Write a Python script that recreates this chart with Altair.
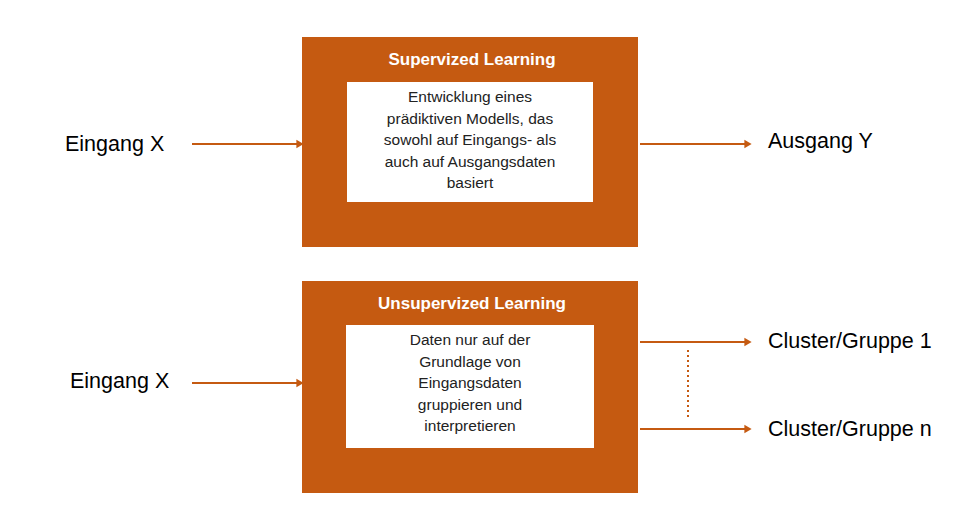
import altair as alt
import pandas as pd

ORANGE = "#C55A11"

# boxes: x, x2, y, y2, fill
box_x = [302, 347, 302, 346]
box_x2 = [638, 593, 638, 594]
box_y = [37, 82, 281, 325]
box_y2 = [247, 202, 493, 448]
box_fill = [ORANGE, "white", ORANGE, "white"]

# arrows
arr_x = [192, 640, 192, 640, 640]
arr_x2 = [300, 748, 300, 748, 748]
arr_y = [144, 144, 383, 342, 429]

titles = ["Supervized Learning", "Unsupervized Learning"]
title_x = [472, 472]
title_y = [60, 304]

body = ["Entwicklung eines\nprädiktiven Modells, das\nsowohl auf Eingangs- als\nauch auf Ausgangsdaten\nbasiert",
        "Daten nur auf der\nGrundlage von\nEingangsdaten\ngruppieren und\ninterpretieren"]
body_x = [470, 470]
body_y = [90, 333]

labels = ["Eingang X", "Ausgang Y", "Eingang X", "Cluster/Gruppe 1", "Cluster/Gruppe n"]
lab_x = [65, 768, 70, 768, 768]
lab_y = [145, 142, 382, 342, 430]

X = alt.Scale(domain=[8, 965])
Y = alt.Scale(domain=[8, 505], reverse=True)

def xq(f, **k): return alt.X(f, type="quantitative", scale=X, axis=None, **k)
def yq(f, **k): return alt.Y(f, type="quantitative", scale=Y, axis=None, **k)

boxes = pd.DataFrame({"x": box_x, "x2": box_x2, "y": box_y, "y2": box_y2, "c": box_fill})
arrows = pd.DataFrame({"x": arr_x, "x2": arr_x2, "y": arr_y})
tdf = pd.DataFrame({"t": titles, "x": title_x, "y": title_y})
bdf = pd.DataFrame({"t": body, "x": body_x, "y": body_y})
ldf = pd.DataFrame({"t": labels, "x": lab_x, "y": lab_y})
dots = pd.DataFrame({"x": [688], "y": [350], "y2": [420]})

rects = alt.Chart(boxes).mark_rect().encode(
    x=xq("x"), x2="x2", y=yq("y"), y2="y2",
    fill=alt.Fill("c:N", scale=None))
lines = alt.Chart(arrows).mark_rule(color=ORANGE, strokeWidth=2).encode(
    x=xq("x"), x2="x2", y=yq("y"))
heads = alt.Chart(arrows).mark_point(shape="triangle-right", filled=True, color=ORANGE,
                                     size=70, opacity=1).encode(x=xq("x2"), y=yq("y"))
dotted = alt.Chart(dots).mark_rule(color=ORANGE, strokeWidth=2, strokeDash=[2, 3]).encode(
    x=xq("x"), y=yq("y"), y2="y2")
ttext = alt.Chart(tdf).mark_text(color="white", font="Liberation Sans", fontWeight="bold",
                                 fontSize=17).encode(x=xq("x"), y=yq("y"), text="t:N")
btext = alt.Chart(bdf).mark_text(color="#222222", font="Liberation Sans", fontSize=15.5,
                                 lineHeight=21.5, lineBreak="\n", baseline="top").encode(
    x=xq("x"), y=yq("y"), text="t:N")
ltext = alt.Chart(ldf).mark_text(color="black", font="Liberation Sans", fontSize=21.5,
                                 align="left").encode(x=xq("x"), y=yq("y"), text="t:N")

chart = alt.layer(rects, lines, heads, dotted, ttext, btext, ltext).properties(
    width=957, height=497, padding=0, autosize=alt.AutoSizeParams(type="none")
).configure_view(stroke=None)

chart.save("out.html", embed_options={"renderer": "svg", "actions": False})
